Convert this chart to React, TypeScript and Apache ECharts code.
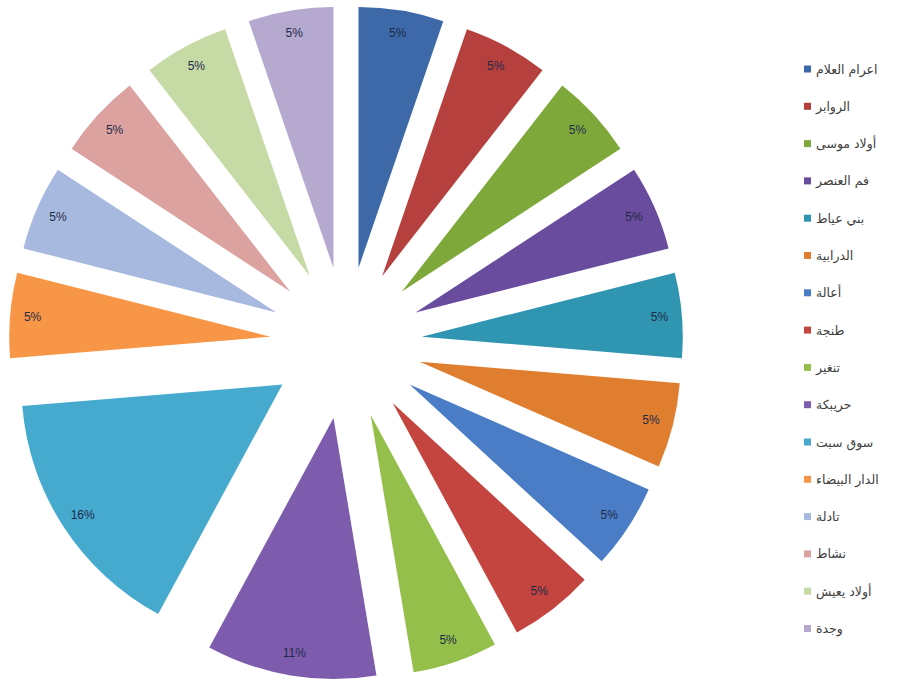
import React, { useEffect, useRef } from "react";
import * as echarts from "echarts";

const categories = [
  "اعرام العلام",
  "الروابر",
  "أولاد موسى",
  "فم العنصر",
  "بني عياط",
  "الدرابية",
  "أعالة",
  "طنجة",
  "تنغير",
  "حريبكة",
  "سوق سبت",
  "الدار البيضاء",
  "تادلة",
  "نشاط",
  "أولاد يعيش",
  "وجدة",
];

const values = [1, 1, 1, 1, 1, 1, 1, 1, 1, 2, 3, 1, 1, 1, 1, 1];

const colors = [
  "#3D69A9",
  "#B5403E",
  "#7FA83A",
  "#6A4C9E",
  "#2F95B1",
  "#E07E30",
  "#4A7DC5",
  "#C4443F",
  "#93BF4A",
  "#7D5CAE",
  "#46AACF",
  "#F79646",
  "#A7B9DF",
  "#DBA2A0",
  "#C6DAA6",
  "#B5A9D0",
];

export default function App() {
  const ref = useRef<HTMLDivElement>(null);

  useEffect(() => {
    if (!ref.current) return;
    const chart = echarts.init(ref.current, undefined, { renderer: "svg" });
    const data = categories.map((name, i) => ({
      name,
      value: values[i],
      selected: true,
      itemStyle: { color: colors[i] },
    }));
    const labelData = categories.map((name, i) => ({
      name,
      value: values[i],
      selected: true,
    }));
    chart.setOption({
      animation: false,
      backgroundColor: "#ffffff",
      legend: {
        orient: "vertical",
        left: 799,
        top: 57,
        itemWidth: 7,
        itemHeight: 7,
        itemGap: 23.3,
        icon: "rect",
        data: categories,
        selectedMode: false,
        textStyle: {
          fontFamily: "DejaVu Sans",
          fontSize: 12.5,
          lineHeight: 14,
          color: "#404040",
        },
      },
      series: [
        {
          type: "pie",
          center: [346, 343],
          radius: [0, 261],
          startAngle: 90,
          clockwise: true,
          selectedMode: "multiple",
          selectedOffset: 76,
          avoidLabelOverlap: false,
          label: { show: false },
          labelLine: { show: false },
          emphasis: { disabled: true },
          itemStyle: { borderWidth: 0 },
          data,
        },
        {
          type: "pie",
          center: [346, 343],
          radius: [210, 261],
          startAngle: 90,
          clockwise: true,
          selectedMode: "multiple",
          selectedOffset: 76,
          avoidLabelOverlap: false,
          silent: true,
          emphasis: { disabled: true },
          itemStyle: { color: "rgba(0,0,0,0)", borderWidth: 0 },
          labelLine: { show: false },
          label: {
            show: true,
            position: "inside",
            formatter: (p: any) => Math.round(p.percent) + "%",
            fontFamily: "Liberation Sans",
            fontSize: 12,
            color: "#1E2B48",
          },
          data: labelData,
        },
      ],
    });
    return () => chart.dispose();
  }, []);

  return (
    <div
      ref={ref}
      style={{ position: "fixed", left: 0, top: 0, width: 902, height: 682 }}
    />
  );
}
